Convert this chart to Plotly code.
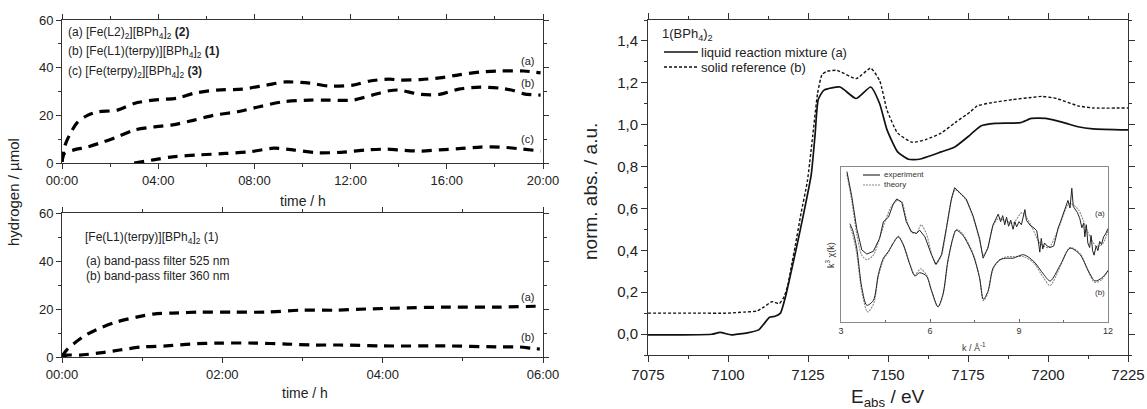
import plotly.graph_objects as go

# ---------------- data: top-left panel (hydrogen vs time, 20 h) ----------------
t_a = [0, 0.1, 0.35, 0.64, 1.06, 1.47, 2.3, 3.0, 3.8, 4.8, 5.5, 6.45, 7.5, 8.5, 9.3, 10.3,
       11.1, 12.1, 12.8, 13.6, 14.05, 14.9, 15.7, 16.5, 17.4, 18.2, 19.2, 19.9]
h_a = [0.5, 6.7, 12.5, 17, 20, 21.4, 22.2, 25, 26.4, 27.2, 29.3, 30.6, 31, 32.7, 34, 33.5,
       32.3, 32.7, 34.4, 35.2, 34.8, 35, 35.7, 37, 38.2, 38.6, 38.6, 37.8]
t_b = [0, 0.1, 0.5, 1.05, 1.7, 2.3, 3.0, 3.8, 4.6, 5.5, 6.3, 7.3, 8.2, 9.2, 10.3, 11.1,
       12.1, 12.9, 13.6, 14.0, 14.9, 15.7, 16.5, 17.4, 18.2, 18.8, 19.2, 19.9]
h_b = [0.5, 4, 5.5, 6.7, 8.8, 11, 13.8, 15.1, 16, 18, 20, 21.5, 23.6, 25.7, 26.4, 26.4,
       26.4, 28.5, 30.3, 30.6, 28.8, 28.8, 31, 31.8, 31.4, 30.3, 29, 28.5]
t_c = [3.0, 3.8, 4.6, 5.7, 6.8, 7.8, 8.8, 9.6, 10.6, 11.6, 12.7, 13.5, 14.0, 14.9, 15.7,
       16.5, 17.4, 18.2, 19.0, 19.9]
h_c = [0, 1.3, 2.6, 3.4, 4.0, 4.7, 6.2, 5.5, 4.3, 4.5, 5.5, 5.8, 5.5, 5.0, 5.5, 6.0, 6.7,
       6.7, 6.0, 5.0]
top_tickvals = [0, 4, 8, 12, 16, 20]
top_ticktext = ["00:00", "04:00", "08:00", "12:00", "16:00", "20:00"]

# ---------------- data: bottom-left panel (6 h) ----------------
t_525 = [0, 0.06, 0.26, 0.47, 0.68, 0.93, 1.14, 1.38, 1.72, 2.13, 2.55, 2.97, 3.4, 3.8,
         4.2, 4.83, 5.46, 5.96]
h_525 = [0.3, 3, 8.4, 12, 14.6, 16.6, 17.9, 18.3, 18.7, 18.7, 18.7, 19.5, 19.5, 20, 20.4,
         20.8, 20.8, 21.2]
t_360 = [0, 0.06, 0.22, 0.47, 0.72, 1.0, 1.3, 1.6, 1.97, 2.4, 2.8, 3.13, 3.46, 4.0, 4.8,
         5.46, 5.7, 5.85, 5.96]
h_360 = [0.3, 0.8, 0.8, 1.7, 2.9, 4.2, 4.6, 5.4, 5.8, 5.8, 5.4, 5.0, 5.0, 4.6, 4.6, 4.2,
         4.2, 3.7, 3.3]
bot_tickvals = [0, 2, 4, 6]
bot_ticktext = ["00:00", "02:00", "04:00", "06:00"]
h_tickvals = [0, 20, 40, 60]

# ---------------- data: XANES panel ----------------
E_liq = [7075, 7085, 7095, 7097.5, 7101, 7103, 7106, 7109.6, 7111.3, 7113, 7114.7, 7116.4,
         7118, 7119.2, 7121.5, 7123.7, 7126, 7127.2, 7128.2, 7130, 7135, 7140, 7144.6,
         7147.4, 7149.7, 7153, 7156.4, 7159.8, 7166.6, 7171, 7175.6, 7179, 7183.5, 7191.4,
         7194.8, 7199.3, 7204.9, 7209.4, 7214, 7225]
A_liq = [-0.004, -0.004, -0.001, 0.008, -0.004, 0.0, 0.006, 0.02, 0.05, 0.08, 0.085, 0.10,
         0.18, 0.26, 0.42, 0.58, 0.76, 0.95, 1.12, 1.165, 1.18, 1.125, 1.18, 1.10, 0.975,
         0.87, 0.835, 0.835, 0.87, 0.895, 0.95, 0.994, 1.006, 1.01, 1.03, 1.03, 1.01, 0.99,
         0.98, 0.975]
E_sol = [7075, 7090, 7100, 7105, 7109, 7111.3, 7113.8, 7116, 7117.6, 7118.7, 7120, 7121,
         7122.8, 7124.8, 7126.5, 7128, 7129.4, 7131, 7134, 7140.1, 7144.6, 7147.4, 7149.7,
         7153, 7157.6, 7162, 7166.6, 7171, 7175.6, 7177.9, 7182.4, 7189, 7194.8, 7198,
         7202.7, 7209.4, 7214, 7225]
A_sol = [0.10, 0.10, 0.10, 0.105, 0.11, 0.13, 0.155, 0.145, 0.18, 0.235, 0.34, 0.42, 0.575,
         0.73, 0.95, 1.15, 1.24, 1.255, 1.26, 1.22, 1.27, 1.21, 1.07, 0.96, 0.916, 0.93,
         0.96, 1.01, 1.06, 1.09, 1.105, 1.12, 1.13, 1.135, 1.125, 1.09, 1.08, 1.08]
abs_tickvals = [0.0, 0.2, 0.4, 0.6, 0.8, 1.0, 1.2, 1.4]
abs_ticktext = ["0,0", "0,2", "0,4", "0,6", "0,8", "1,0", "1,2", "1,4"]

# ---------------- data: EXAFS inset (arbitrary offset units) ----------------
k_exp_a = [3.2, 3.36, 3.53, 3.7, 3.87, 4.09, 4.3, 4.43, 4.6, 4.76, 4.88, 5.05, 5.2, 5.38,
           5.55, 5.65, 5.83, 6.05, 6.2, 6.39, 6.55, 6.72, 6.83, 7.0, 7.22, 7.45, 7.67, 7.79,
           7.95, 8.12, 8.3, 8.38, 8.45, 8.52, 8.58, 8.65, 8.72, 8.8, 8.86, 8.92, 9.0, 9.08,
           9.15, 9.2, 9.25, 9.32, 9.4, 9.5, 9.6, 9.66, 9.7, 9.75, 9.8, 9.86, 9.95, 10.05,
           10.17, 10.25, 10.32, 10.4, 10.5, 10.58, 10.65, 10.72, 10.78, 10.83, 10.9, 10.97,
           11.05, 11.12, 11.18, 11.22, 11.27, 11.32, 11.38, 11.43, 11.48, 11.53, 11.6,
           11.66, 11.72, 11.78, 11.85, 11.92, 12.0]
chi_exp_a = [0.99, 0.83, 0.615, 0.475, 0.447, 0.465, 0.55, 0.66, 0.69, 0.776, 0.81, 0.787,
             0.66, 0.593, 0.583, 0.604, 0.56, 0.443, 0.379, 0.443, 0.615, 0.81, 0.884, 0.85,
             0.81, 0.70, 0.55, 0.42, 0.486, 0.637, 0.71, 0.66, 0.70, 0.64, 0.69, 0.63, 0.67,
             0.61, 0.66, 0.626, 0.66, 0.64, 0.70, 0.74, 0.67, 0.65, 0.63, 0.62, 0.60, 0.52,
             0.46, 0.55, 0.48, 0.52, 0.50, 0.49, 0.50, 0.56, 0.62, 0.66, 0.72, 0.76, 0.80,
             0.75, 0.88, 0.76, 0.74, 0.72, 0.68, 0.62, 0.65, 0.56, 0.64, 0.52, 0.49, 0.57,
             0.47, 0.44, 0.50, 0.47, 0.53, 0.51, 0.56, 0.58, 0.615]
k_th_a = [3.2, 3.36, 3.53, 3.7, 3.87, 4.09, 4.3, 4.5, 4.7, 4.9, 5.05, 5.2, 5.38, 5.55, 5.7,
          5.88, 6.05, 6.2, 6.39, 6.55, 6.72, 6.85, 7.0, 7.22, 7.45, 7.67, 7.8, 7.95, 8.12,
          8.3, 8.5, 8.8, 9.1, 9.4, 9.7, 10.0, 10.3, 10.7, 11.0, 11.3, 11.6, 11.8, 12.0]
chi_th_a = [0.97, 0.80, 0.58, 0.44, 0.41, 0.44, 0.55, 0.67, 0.76, 0.80, 0.79, 0.68, 0.59,
            0.585, 0.64, 0.58, 0.45, 0.38, 0.44, 0.61, 0.80, 0.87, 0.85, 0.80, 0.69, 0.54,
            0.44, 0.49, 0.63, 0.68, 0.67, 0.65, 0.72, 0.64, 0.52, 0.49, 0.60, 0.78, 0.74,
            0.60, 0.50, 0.51, 0.60]
k_exp_b = [3.3, 3.4, 3.53, 3.7, 3.87, 4.09, 4.26, 4.43, 4.6, 4.76, 4.93, 5.1, 5.32, 5.49,
           5.65, 5.88, 6.05, 6.27, 6.44, 6.6, 6.77, 6.88, 7.1, 7.45, 7.67, 7.8, 7.95, 8.13,
           8.36, 8.6, 8.81, 9.15, 9.49, 9.83, 10.05, 10.4, 10.72, 11.06, 11.34, 11.56,
           11.79, 12.0]
chi_exp_b = [0.647, 0.60, 0.486, 0.228, 0.11, 0.142, 0.314, 0.42, 0.465, 0.518, 0.56, 0.508,
             0.379, 0.303, 0.324, 0.303, 0.206, 0.10, 0.185, 0.40, 0.55, 0.604, 0.572,
             0.443, 0.292, 0.15, 0.20, 0.357, 0.41, 0.42, 0.42, 0.443, 0.40, 0.314, 0.27,
             0.379, 0.486, 0.443, 0.336, 0.27, 0.29, 0.336]
k_th_b = [3.3, 3.4, 3.53, 3.7, 3.9, 4.1, 4.26, 4.43, 4.6, 4.76, 4.93, 5.1, 5.32, 5.49, 5.68,
          5.88, 6.05, 6.27, 6.44, 6.6, 6.77, 6.9, 7.1, 7.45, 7.67, 7.8, 7.95, 8.13, 8.36,
          8.6, 8.81, 9.15, 9.49, 9.83, 10.05, 10.4, 10.72, 11.06, 11.34, 11.56, 11.79, 12.0]
chi_th_b = [0.63, 0.57, 0.45, 0.20, 0.066, 0.12, 0.30, 0.41, 0.46, 0.52, 0.565, 0.51, 0.38,
            0.31, 0.35, 0.31, 0.21, 0.10, 0.18, 0.39, 0.55, 0.61, 0.58, 0.45, 0.29, 0.14,
            0.19, 0.35, 0.41, 0.43, 0.43, 0.43, 0.39, 0.29, 0.24, 0.37, 0.49, 0.45, 0.33,
            0.26, 0.28, 0.34]
k_tickvals = [3, 6, 9, 12]

# ---------------- layout helpers ----------------
W, H = 1147, 409
FONT = "Liberation Sans, Arial, sans-serif"
INK = "#222222"


def px(x):
    return x / W


def py(y):
    return 1 - y / H


fig = go.Figure()

dash_big = "10px,7px"
big = dict(color="black", width=3.2, dash=dash_big, shape="spline", smoothing=0.8)
fig.add_trace(go.Scatter(x=t_a, y=h_a, mode="lines", line=big, xaxis="x", yaxis="y"))
fig.add_trace(go.Scatter(x=t_b, y=h_b, mode="lines", line=big, xaxis="x", yaxis="y"))
fig.add_trace(go.Scatter(x=t_c, y=h_c, mode="lines", line=big, xaxis="x", yaxis="y"))
fig.add_trace(go.Scatter(x=t_525, y=h_525, mode="lines", line=big, xaxis="x2", yaxis="y2"))
fig.add_trace(go.Scatter(x=t_360, y=h_360, mode="lines", line=big, xaxis="x2", yaxis="y2"))

fig.add_trace(go.Scatter(x=E_sol, y=A_sol, mode="lines", line=dict(color="#111", width=1.4, dash="3px,2px", shape="spline", smoothing=0.5), xaxis="x3", yaxis="y3"))
fig.add_trace(go.Scatter(x=E_liq, y=A_liq, mode="lines", line=dict(color="#111", width=1.7, shape="spline", smoothing=0.5), xaxis="x3", yaxis="y3"))

fig.add_trace(go.Scatter(x=k_th_a, y=chi_th_a, mode="lines", line=dict(color="#8a8a8a", width=1.1, dash="2px,1px", shape="spline", smoothing=0.8), xaxis="x4", yaxis="y4"))
fig.add_trace(go.Scatter(x=k_th_b, y=chi_th_b, mode="lines", line=dict(color="#8a8a8a", width=1.1, dash="2px,1px", shape="spline", smoothing=0.8), xaxis="x4", yaxis="y4"))
fig.add_trace(go.Scatter(x=k_exp_a, y=chi_exp_a, mode="lines", line=dict(color="#222", width=1.0), xaxis="x4", yaxis="y4"))
fig.add_trace(go.Scatter(x=k_exp_b, y=chi_exp_b, mode="lines", line=dict(color="#222", width=1.0, shape="spline", smoothing=0.8), xaxis="x4", yaxis="y4"))

# legend line samples drawn in paper space
shapes = [
    dict(type="line", xref="paper", yref="paper", x0=px(664), x1=px(698), y0=py(52), y1=py(52), line=dict(color="#111", width=1.5)),
    dict(type="line", xref="paper", yref="paper", x0=px(664), x1=px(698), y0=py(67), y1=py(67), line=dict(color="#111", width=1.3, dash="3px,2px")),
    dict(type="line", xref="paper", yref="paper", x0=px(863), x1=px(880), y0=py(175), y1=py(175), line=dict(color="#333", width=1.2)),
    dict(type="line", xref="paper", yref="paper", x0=px(863), x1=px(880), y0=py(185), y1=py(185), line=dict(color="#888", width=1.0, dash="2px,1px")),
]


def ann(x, y, text, size, xanchor="left", angle=0, color=INK):
    return dict(x=px(x), y=py(y), xref="paper", yref="paper", text=text, showarrow=False,
                xanchor=xanchor, yanchor="middle", textangle=angle,
                font=dict(family=FONT, size=size, color=color))


annotations = [
    ann(66, 33, "(a) [Fe(L2)<sub>2</sub>][BPh<sub>4</sub>]<sub>2</sub> <b>(2)</b>", 12),
    ann(66, 52, "(b) [Fe(L1)(terpy)][BPh<sub>4</sub>]<sub>2</sub> <b>(1)</b>", 12),
    ann(66, 72, "(c) [Fe(terpy)<sub>2</sub>][BPh<sub>4</sub>]<sub>2</sub> <b>(3)</b>", 12),
    ann(527, 61, "(a)", 11, "center"),
    ann(527, 83, "(b)", 11, "center"),
    ann(527, 139, "(c)", 11, "center"),
    ann(83, 238, "[Fe(L1)(terpy)][BPh<sub>4</sub>]<sub>2</sub> (1)", 12),
    ann(84, 261, "(a) band-pass filter 525 nm", 12),
    ann(84, 276, "(b) band-pass filter 360 nm", 12),
    ann(527, 297, "(a)", 11, "center"),
    ann(527, 337, "(b)", 11, "center"),
    ann(303, 201, "time / h", 14, "center"),
    ann(305, 393, "time / h", 14, "center"),
    ann(14, 192, "hydrogen / µmol", 15, "center", -90),
    ann(660, 34, "1(BPh<sub>4</sub>)<sub>2</sub>", 13),
    ann(699, 52, "liquid reaction mixture (a)", 13),
    ann(699, 67, "solid reference (b)", 13),
    ann(591, 192, "norm. abs. / a.u.", 19, "center", -90),
    ann(888, 398, "E<sub>abs</sub> / eV", 19, "center"),
    ann(882, 175, "experiment", 8, "left", 0, "#333"),
    ann(882, 185, "theory", 8, "left", 0, "#333"),
    ann(1100, 213, "(a)", 8, "center", 0, "#333"),
    ann(1100, 292, "(b)", 8, "center", 0, "#333"),
    ann(974, 347, "k / Å<sup>-1</sup>", 9, "center", 0, "#333"),
    ann(830, 255, "k<sup>3</sup> χ(k)", 9, "center", -90, "#333"),
]

common = dict(showline=True, linecolor="#333", linewidth=1, mirror="ticks", ticks="outside",
              tickcolor="#333", showgrid=False, zeroline=False, fixedrange=True,
              automargin=False)

left_font = dict(family=FONT, size=13, color=INK)
right_font = dict(family=FONT, size=15, color=INK)

fig.update_layout(
    width=W, height=H, margin=dict(l=0, r=0, t=0, b=0, autoexpand=False), autosize=False,
    paper_bgcolor="white", plot_bgcolor="white", showlegend=False,
    xaxis=dict(common, domain=[px(62), px(543)], anchor="y", range=[0, 20],
               tickmode="array", tickvals=top_tickvals, ticktext=top_ticktext, ticklen=5,
               tickfont=left_font,
               minor=dict(tickmode="array", tickvals=[2, 6, 10, 14, 18], ticklen=3, ticks="outside", tickcolor="#333")),
    yaxis=dict(common, domain=[py(163), py(20)], anchor="x", range=[0, 60],
               tickmode="array", tickvals=h_tickvals, ticklen=5, tickfont=left_font,
               minor=dict(tickmode="array", tickvals=[10, 30, 50], ticklen=3, ticks="outside", tickcolor="#333")),
    xaxis2=dict(common, domain=[px(62), px(543)], anchor="y2", range=[0, 6],
                tickmode="array", tickvals=bot_tickvals, ticktext=bot_ticktext, ticklen=5,
                tickfont=left_font,
                minor=dict(tickmode="array", tickvals=[1, 3, 5], ticklen=3, ticks="outside", tickcolor="#333")),
    yaxis2=dict(common, domain=[py(357), py(213)], anchor="x2", range=[0, 60],
                tickmode="array", tickvals=h_tickvals, ticklen=5, tickfont=left_font,
                minor=dict(tickmode="array", tickvals=[10, 30, 50], ticklen=3, ticks="outside", tickcolor="#333")),
    xaxis3=dict(common, domain=[px(648), px(1128)], anchor="y3", range=[7075, 7225],
                tickmode="linear", tick0=7075, dtick=25, ticklen=6, tickfont=right_font,
                minor=dict(tick0=7075, dtick=12.5, ticklen=3, ticks="outside", tickcolor="#333")),
    yaxis3=dict(common, domain=[py(355), py(20)], anchor="x3", range=[-0.1, 1.5],
                tickmode="array", tickvals=abs_tickvals, ticktext=abs_ticktext, ticklen=6,
                tickfont=right_font,
                minor=dict(tickmode="array", tickvals=[-0.1, 0.1, 0.3, 0.5, 0.7, 0.9, 1.1, 1.3, 1.5], ticklen=3, ticks="outside", tickcolor="#333")),
    xaxis4=dict(showline=True, linecolor="#8a8a8a", linewidth=1, mirror=True, ticks="inside",
                tickcolor="#666", showgrid=False, zeroline=False, fixedrange=True,
                automargin=False,
                domain=[px(841), px(1108)], anchor="y4", range=[3, 12],
                tickmode="array", tickvals=k_tickvals, ticklen=3,
                tickfont=dict(family=FONT, size=9, color="#333"),
                minor=dict(tickmode="array", tickvals=[4.5, 7.5, 10.5], ticklen=2, ticks="inside", tickcolor="#666")),
    yaxis4=dict(showline=True, linecolor="#8a8a8a", linewidth=1, mirror=True, ticks="",
                showticklabels=False, showgrid=False, zeroline=False, fixedrange=True,
                automargin=False,
                domain=[py(322), py(167)], anchor="x4", range=[0, 1.02]),
    shapes=shapes,
    annotations=annotations,
)

fig.write_html("out.html", config={"displayModeBar": False},
               post_script="document.body.style.margin='0';document.body.style.overflow='hidden';")
